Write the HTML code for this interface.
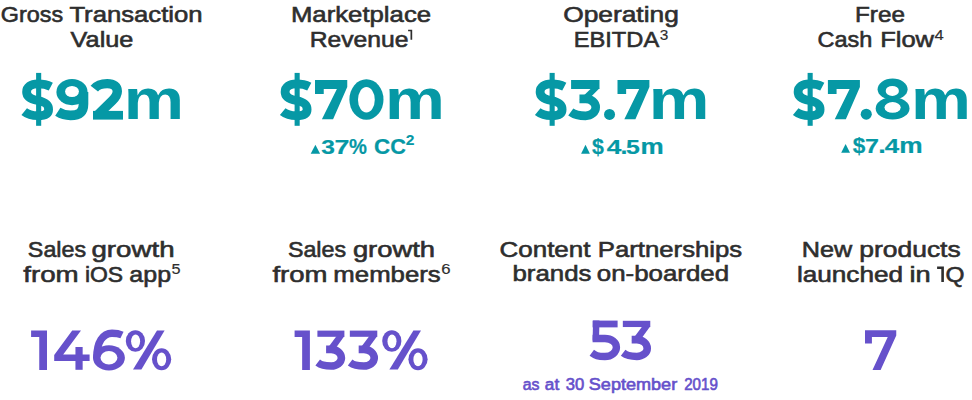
<!DOCTYPE html>
<html><head><meta charset="utf-8"><style>
html,body{margin:0;padding:0;background:#fff;width:972px;height:400px;overflow:hidden;position:relative}
.t{position:absolute;width:500px;text-align:center;white-space:nowrap;font-family:"Liberation Sans",sans-serif;transform-origin:250px 50%}
sup{font-size:0.65em;vertical-align:0;position:relative;top:-0.53em;letter-spacing:0;-webkit-text-stroke:0.15px;margin-left:0.5px}
</style></head><body>
<svg width="972" height="400" style="position:absolute;left:0;top:0"><polygon fill="#0698a5" points="315.00,80.00 347.25,80.00 347.25,87.11 333.09,119.30 321.90,119.30 336.90,89.00 323.74,89.00 323.74,94.03 315.00,94.03"/><polygon fill="#0698a5" points="617.50,80.00 649.40,80.00 649.40,87.11 635.40,119.30 624.33,119.30 639.16,89.00 626.14,89.00 626.14,94.03 617.50,94.03"/><polygon fill="#0698a5" points="827.90,80.00 859.90,80.00 859.90,87.11 845.85,119.30 834.75,119.30 849.63,89.00 836.57,89.00 836.57,94.03 827.90,94.03"/><polygon fill="#6651cb" points="865.00,330.25 896.25,330.25 896.25,335.60 880.62,369.90 872.50,369.90 887.75,336.91 871.91,336.91 871.91,343.53 865.00,343.53"/><polygon fill="#6651cb" points="31.10,330.60 47.00,330.60 47.00,369.90 39.25,369.90 39.25,336.90 31.10,336.90"/><polygon fill="#6651cb" points="294.60,330.60 309.90,330.60 309.90,369.90 302.15,369.90 302.15,336.90 294.60,336.90"/><ellipse cx="135.40" cy="341" rx="9.6" ry="10.8" fill="#6651cb"/><ellipse cx="135.60" cy="341.3" rx="4.5" ry="6.9" fill="#fff"/><ellipse cx="161.60" cy="359.2" rx="9.6" ry="11" fill="#6651cb"/><ellipse cx="161.60" cy="359.4" rx="4.6" ry="6.8" fill="#fff"/><polygon fill="#6651cb" points="157.00,330.40 164.60,330.40 141.40,369.60 133.00,369.60"/><ellipse cx="391.80" cy="341" rx="9.6" ry="10.8" fill="#6651cb"/><ellipse cx="392.00" cy="341.3" rx="4.5" ry="6.9" fill="#fff"/><ellipse cx="418.00" cy="359.2" rx="9.6" ry="11" fill="#6651cb"/><ellipse cx="418.00" cy="359.4" rx="4.6" ry="6.8" fill="#fff"/><polygon fill="#6651cb" points="413.40,330.40 421.00,330.40 397.80,369.60 389.40,369.60"/><polygon fill="#0698a5" points="315.40,144.80 320.10,153.80 310.70,153.80"/><polygon fill="#0698a5" points="585.50,144.80 589.90,153.70 581.10,153.70"/><polygon fill="#0698a5" points="845.60,143.90 850.00,152.80 841.20,152.80"/><circle cx="609.55" cy="114.4" r="5.5" fill="#0698a5"/><circle cx="866.25" cy="114.2" r="5.55" fill="#0698a5"/><ellipse cx="366.45" cy="99.45" rx="17.05" ry="20.25" fill="#0698a5"/><ellipse cx="366.4" cy="99.75" rx="8.4" ry="12.75" fill="#fff"/><polygon fill="#6651cb" points="72.2,330.6 81,330.6 63.2,354.6 89.6,354.6 89.6,361.05 54.2,361.05 54.2,355"/><rect x="75.45" y="347" width="7.2" height="22.8" fill="#6651cb"/><rect x="317.40" y="330.60" width="27.00" height="6.21" fill="#6651cb"/><polygon fill="#6651cb" points="336.60,336.02 344.40,336.02 334.20,350.13 326.10,350.13"/><path d="M 326.10 349.35 H 331.20 C 336.83 349.35 341.40 353.27 341.40 358.11 C 341.40 362.49 336.83 366.05 331.20 366.05 C 323.78 366.05 321.30 365.18 317.70 362.43" fill="none" stroke="#6651cb" stroke-width="7.60"/><rect x="349.83" y="330.60" width="27.45" height="6.21" fill="#6651cb"/><polygon fill="#6651cb" points="369.35,336.02 377.28,336.02 366.91,350.13 358.68,350.13"/><path d="M 358.68 349.35 H 363.86 C 369.59 349.35 374.23 353.27 374.23 358.11 C 374.23 362.49 369.59 366.05 363.86 366.05 C 356.31 366.05 353.80 365.18 350.13 362.43" fill="none" stroke="#6651cb" stroke-width="7.60"/><rect x="622.83" y="320.80" width="27.45" height="6.24" fill="#6651cb"/><polygon fill="#6651cb" points="642.35,326.25 650.28,326.25 639.91,340.43 631.67,340.43"/><path d="M 631.67 339.64 H 636.86 C 642.59 339.64 647.23 343.59 647.23 348.45 C 647.23 352.86 642.59 356.43 636.86 356.43 C 629.31 356.43 626.79 355.56 623.13 352.80" fill="none" stroke="#6651cb" stroke-width="7.60"/><rect x="571.09" y="80.00" width="28.39" height="8.99" fill="#0698a5"/><polygon fill="#0698a5" points="591.28,88.20 599.49,88.20 587.97,99.68 579.45,99.68"/><path d="M 579.45 98.89 H 585.61 C 591.18 98.89 595.70 102.65 595.70 107.28 C 595.70 112.01 591.18 115.84 585.61 115.84 C 577.45 115.84 574.56 114.77 570.78 112.00" fill="none" stroke="#0698a5" stroke-width="8.60"/><rect x="592.59" y="320.60" width="25.01" height="6.77" fill="#6651cb"/><polygon fill="#6651cb" points="593.06,320.60 599.47,320.60 599.00,340.50 592.59,340.50"/><path d="M 592.59 338.51 H 604.95 C 611.28 338.51 616.41 342.39 616.41 347.19 C 616.41 352.33 611.28 356.50 604.95 356.50 C 597.72 356.50 595.56 355.62 591.80 352.84" fill="none" stroke="#6651cb" stroke-width="7.40"/><path d="M 96.75 358 C 96.75 342 103 333.2 112 333.2 C 116 333.2 119 333.6 122 335" fill="none" stroke="#6651cb" stroke-width="7.4"/><ellipse cx="108.95" cy="357.8" rx="15.95" ry="12.6" fill="#6651cb"/><ellipse cx="108.95" cy="357.75" rx="8.45" ry="6.85" fill="#fff"/><path d="M 83.5 92 L 83.5 104 C 83.5 112.5 78.5 115.4 70.5 115.4 C 65.5 115.4 61.5 114.2 57.8 111.8" fill="none" stroke="#0698a5" stroke-width="9.6"/><ellipse cx="72" cy="92.1" rx="15.6" ry="13.1" fill="#0698a5"/><ellipse cx="72" cy="91.5" rx="6.9" ry="5.6" fill="#fff"/><rect x="93" y="110.9" width="30" height="8.7" fill="#0698a5"/><path d="M 94.3 88.7 C 97.2 85 101.5 83.6 107.2 83.6 C 113.8 83.6 117.3 86.8 117.3 91.2 C 117.3 94.6 115.8 97.2 112.3 100.6 L 97 115.5" fill="none" stroke="#0698a5" stroke-width="9.4"/><ellipse cx="892.6" cy="89.2" rx="15" ry="10.6" fill="#0698a5"/><ellipse cx="892.6" cy="108.4" rx="16.9" ry="11.2" fill="#0698a5"/><ellipse cx="892.3" cy="90.9" rx="6.6" ry="5" fill="#fff"/><ellipse cx="892.6" cy="107.4" rx="8.1" ry="5.3" fill="#fff"/><g transform="translate(0.00,0)"><rect x="36.1" y="72.9" width="5.1" height="52.9" fill="#0698a5"/><path d="M 50.8 86.6 C 47 84.6 42 83.9 37.8 83.9 C 30.8 83.9 26.6 87.2 26.6 91.9 C 26.6 97.2 31.5 99.2 37.8 100.5 C 44.4 101.8 48.6 103.6 48.6 109.4 C 48.6 113.9 44.6 115.7 37.8 115.7 C 32 115.7 27.3 114.1 24.2 111.6" fill="none" stroke="#0698a5" stroke-width="8.8"/></g><g transform="translate(258.50,0)"><rect x="36.1" y="72.9" width="5.1" height="52.9" fill="#0698a5"/><path d="M 50.8 86.6 C 47 84.6 42 83.9 37.8 83.9 C 30.8 83.9 26.6 87.2 26.6 91.9 C 26.6 97.2 31.5 99.2 37.8 100.5 C 44.4 101.8 48.6 103.6 48.6 109.4 C 48.6 113.9 44.6 115.7 37.8 115.7 C 32 115.7 27.3 114.1 24.2 111.6" fill="none" stroke="#0698a5" stroke-width="8.8"/></g><g transform="translate(513.50,0)"><rect x="36.1" y="72.9" width="5.1" height="52.9" fill="#0698a5"/><path d="M 50.8 86.6 C 47 84.6 42 83.9 37.8 83.9 C 30.8 83.9 26.6 87.2 26.6 91.9 C 26.6 97.2 31.5 99.2 37.8 100.5 C 44.4 101.8 48.6 103.6 48.6 109.4 C 48.6 113.9 44.6 115.7 37.8 115.7 C 32 115.7 27.3 114.1 24.2 111.6" fill="none" stroke="#0698a5" stroke-width="8.8"/></g><g transform="translate(771.50,0)"><rect x="36.1" y="72.9" width="5.1" height="52.9" fill="#0698a5"/><path d="M 50.8 86.6 C 47 84.6 42 83.9 37.8 83.9 C 30.8 83.9 26.6 87.2 26.6 91.9 C 26.6 97.2 31.5 99.2 37.8 100.5 C 44.4 101.8 48.6 103.6 48.6 109.4 C 48.6 113.9 44.6 115.7 37.8 115.7 C 32 115.7 27.3 114.1 24.2 111.6" fill="none" stroke="#0698a5" stroke-width="8.8"/></g><polygon fill="#2e2e2e" points="937.10,266.40 943.90,266.40 943.90,281.90 941.30,281.90 941.30,268.90 937.10,268.90"/><polygon fill="#2e2e2e" points="408.10,29.80 412.20,29.80 412.20,39.70 410.50,39.70 410.50,31.30 408.10,31.30"/></svg>
<div class="t" style="left:-217.82px;top:0.64px;font-size:22.4px;line-height:27px;font-weight:400;color:#2e2e2e;transform:scale(1.0444,1.0);transform-origin:250px 21.26px;letter-spacing:0px;-webkit-text-stroke:0.6px">Gross</div>
<div class="t" style="left:-113.95px;top:0.64px;font-size:22.4px;line-height:27px;font-weight:400;color:#2e2e2e;transform:scale(1.147,1.0);transform-origin:250px 21.26px;letter-spacing:0px;-webkit-text-stroke:0.6px">Transaction</div>
<div class="t" style="left:-148.43px;top:26.34px;font-size:22.4px;line-height:27px;font-weight:400;color:#2e2e2e;transform:scale(1.1283,1.0);transform-origin:250px 21.26px;letter-spacing:0px;-webkit-text-stroke:0.6px">Value</div>
<div class="t" style="left:110.55px;top:0.64px;font-size:22.4px;line-height:27px;font-weight:400;color:#2e2e2e;transform:scale(1.1491,1.0);transform-origin:250px 21.26px;letter-spacing:0px;-webkit-text-stroke:0.6px">Marketplace</div>
<div class="t" style="left:108.61px;top:26.34px;font-size:22.4px;line-height:27px;font-weight:400;color:#2e2e2e;transform:scale(1.1014,1.0);transform-origin:250px 21.26px;letter-spacing:0px;-webkit-text-stroke:0.6px">Revenue</div>
<div class="t" style="left:370.53px;top:0.64px;font-size:22.4px;line-height:27px;font-weight:400;color:#2e2e2e;transform:scale(1.1763,1.0);transform-origin:250px 21.26px;letter-spacing:0px;-webkit-text-stroke:0.6px">Operating</div>
<div class="t" style="left:371.24px;top:26.34px;font-size:22.4px;line-height:27px;font-weight:400;color:#2e2e2e;transform:scale(1.057,1.0);transform-origin:250px 21.26px;letter-spacing:0px;-webkit-text-stroke:0.6px">EBITDA<sup>3</sup></div>
<div class="t" style="left:630.20px;top:0.64px;font-size:22.4px;line-height:27px;font-weight:400;color:#2e2e2e;transform:scale(1.0843,1.0);transform-origin:250px 21.26px;letter-spacing:0px;-webkit-text-stroke:0.6px">Free</div>
<div class="t" style="left:595.29px;top:26.34px;font-size:22.4px;line-height:27px;font-weight:400;color:#2e2e2e;transform:scale(1.0491,1.0);transform-origin:250px 21.26px;letter-spacing:0px;-webkit-text-stroke:0.6px">Cash</div>
<div class="t" style="left:661.69px;top:26.34px;font-size:22.4px;line-height:27px;font-weight:400;color:#2e2e2e;transform:scale(1.1388,1.0);transform-origin:250px 21.26px;letter-spacing:0px;-webkit-text-stroke:0.6px">Flow<sup>4</sup></div>
<div class="t" style="left:-193.34px;top:235.74px;font-size:22.4px;line-height:27px;font-weight:400;color:#2e2e2e;transform:scale(1.0402,1.0);transform-origin:250px 21.26px;letter-spacing:0px;-webkit-text-stroke:0.6px">Sales</div>
<div class="t" style="left:-116.82px;top:235.74px;font-size:22.4px;line-height:27px;font-weight:400;color:#2e2e2e;transform:scale(1.2357,1.0);transform-origin:250px 21.26px;letter-spacing:0px;-webkit-text-stroke:0.6px">growth</div>
<div class="t" style="left:-199.48px;top:260.74px;font-size:22.4px;line-height:27px;font-weight:400;color:#2e2e2e;transform:scale(1.2373,1.0);transform-origin:250px 21.26px;letter-spacing:0px;-webkit-text-stroke:0.6px">from</div>
<div class="t" style="left:-145.92px;top:260.74px;font-size:22.4px;line-height:27px;font-weight:400;color:#2e2e2e;transform:scale(1.0241,1.0);transform-origin:250px 21.26px;letter-spacing:0px;-webkit-text-stroke:0.6px">iOS</div>
<div class="t" style="left:-95.12px;top:260.74px;font-size:22.4px;line-height:27px;font-weight:400;color:#2e2e2e;transform:scale(1.1149,1.0);transform-origin:250px 21.26px;letter-spacing:0px;-webkit-text-stroke:0.6px">app<sup>5</sup></div>
<div class="t" style="left:66.88px;top:235.74px;font-size:22.4px;line-height:27px;font-weight:400;color:#2e2e2e;transform:scale(1.0389,1.0);transform-origin:250px 21.26px;letter-spacing:0px;-webkit-text-stroke:0.6px">Sales</div>
<div class="t" style="left:143.62px;top:235.74px;font-size:22.4px;line-height:27px;font-weight:400;color:#2e2e2e;transform:scale(1.2234,1.0);transform-origin:250px 21.26px;letter-spacing:0px;-webkit-text-stroke:0.6px">growth</div>
<div class="t" style="left:49.58px;top:260.74px;font-size:22.4px;line-height:27px;font-weight:400;color:#2e2e2e;transform:scale(1.2291,1.0);transform-origin:250px 21.26px;letter-spacing:0px;-webkit-text-stroke:0.6px">from</div>
<div class="t" style="left:142.27px;top:260.74px;font-size:22.4px;line-height:27px;font-weight:400;color:#2e2e2e;transform:scale(1.1507,1.0);transform-origin:250px 21.26px;letter-spacing:0px;-webkit-text-stroke:0.6px">members<sup>6</sup></div>
<div class="t" style="left:295.13px;top:235.64px;font-size:22.4px;line-height:27px;font-weight:400;color:#2e2e2e;transform:scale(1.1587,1.0);transform-origin:250px 21.26px;letter-spacing:0px;-webkit-text-stroke:0.6px">Content</div>
<div class="t" style="left:420.06px;top:235.64px;font-size:22.4px;line-height:27px;font-weight:400;color:#2e2e2e;transform:scale(1.148,1.0);transform-origin:250px 21.26px;letter-spacing:0px;-webkit-text-stroke:0.6px">Partnerships</div>
<div class="t" style="left:301.69px;top:260.44px;font-size:22.4px;line-height:27px;font-weight:400;color:#2e2e2e;transform:scale(1.1545,1.0);transform-origin:250px 21.26px;letter-spacing:0px;-webkit-text-stroke:0.6px">brands</div>
<div class="t" style="left:413.34px;top:260.44px;font-size:22.4px;line-height:27px;font-weight:400;color:#2e2e2e;transform:scale(1.1554,1.0);transform-origin:250px 21.26px;letter-spacing:0px;-webkit-text-stroke:0.6px">on-boarded</div>
<div class="t" style="left:576.88px;top:236.24px;font-size:22.4px;line-height:27px;font-weight:400;color:#2e2e2e;transform:scale(1.1256,1.0);transform-origin:250px 21.26px;letter-spacing:0px;-webkit-text-stroke:0.6px">New</div>
<div class="t" style="left:659.62px;top:236.24px;font-size:22.4px;line-height:27px;font-weight:400;color:#2e2e2e;transform:scale(1.1804,1.0);transform-origin:250px 21.26px;letter-spacing:0px;-webkit-text-stroke:0.6px">products</div>
<div class="t" style="left:599.67px;top:261.04px;font-size:22.4px;line-height:27px;font-weight:400;color:#2e2e2e;transform:scale(1.1678,1.0);transform-origin:250px 21.26px;letter-spacing:0px;-webkit-text-stroke:0.6px">launched</div>
<div class="t" style="left:670.08px;top:261.04px;font-size:22.4px;line-height:27px;font-weight:400;color:#2e2e2e;transform:scale(1.2156,1.0);transform-origin:250px 21.26px;letter-spacing:0px;-webkit-text-stroke:0.6px">in</div>
<div class="t" style="left:705.00px;top:261.04px;font-size:22.4px;line-height:27px;font-weight:400;color:#2e2e2e;transform:scale(1.0902,1.0);transform-origin:250px 21.26px;letter-spacing:0px;-webkit-text-stroke:0.6px">Q</div>
<div class="t" style="left:281.47px;top:374.63px;font-size:15.8px;line-height:19px;font-weight:400;color:#6651cb;transform:scale(1.0035,1.0);transform-origin:250px 14.97px;letter-spacing:0px;-webkit-text-stroke:0.6px">as</div>
<div class="t" style="left:302.32px;top:374.63px;font-size:15.8px;line-height:19px;font-weight:400;color:#6651cb;transform:scale(1.089,1.0);transform-origin:250px 14.97px;letter-spacing:0px;-webkit-text-stroke:0.6px">at</div>
<div class="t" style="left:324.72px;top:374.63px;font-size:15.8px;line-height:19px;font-weight:400;color:#6651cb;transform:scale(1.0513,1.0);transform-origin:250px 14.97px;letter-spacing:0px;-webkit-text-stroke:0.6px">30</div>
<div class="t" style="left:383.43px;top:374.63px;font-size:15.8px;line-height:19px;font-weight:400;color:#6651cb;transform:scale(1.1436,1.0);transform-origin:250px 14.97px;letter-spacing:0px;-webkit-text-stroke:0.6px">September</div>
<div class="t" style="left:450.50px;top:374.63px;font-size:15.8px;line-height:19px;font-weight:400;color:#6651cb;transform:scale(0.959,1.0);transform-origin:250px 14.97px;letter-spacing:0px;-webkit-text-stroke:0.6px">2019</div>
<div class="t" style="left:-95.95px;top:64.88px;font-size:57.5px;line-height:69px;font-weight:700;color:#0698a5;transform:scale(1.1788,1.0);transform-origin:250px 54.42px;letter-spacing:0px;-webkit-text-stroke:0.0px">m</div>
<div class="t" style="left:164.62px;top:64.88px;font-size:57.5px;line-height:69px;font-weight:700;color:#0698a5;transform:scale(1.1707,1.0);transform-origin:250px 54.42px;letter-spacing:0px;-webkit-text-stroke:0.0px">m</div>
<div class="t" style="left:428.95px;top:64.88px;font-size:57.5px;line-height:69px;font-weight:700;color:#0698a5;transform:scale(1.1871,1.0);transform-origin:250px 54.42px;letter-spacing:0px;-webkit-text-stroke:0.0px">m</div>
<div class="t" style="left:690.88px;top:64.88px;font-size:57.5px;line-height:69px;font-weight:700;color:#0698a5;transform:scale(1.1715,1.0);transform-origin:250px 54.42px;letter-spacing:0px;-webkit-text-stroke:0.0px">m</div>
<div class="t" style="left:347.92px;top:134.15px;font-size:21.8px;line-height:26px;font-weight:700;color:#0698a5;transform:scale(0.9797,1.0);transform-origin:250px 20.55px;letter-spacing:0px;-webkit-text-stroke:0.2px">$</div>
<div class="t" style="left:364.05px;top:134.15px;font-size:21.8px;line-height:26px;font-weight:700;color:#0698a5;transform:scale(1.2087,0.96);transform-origin:250px 20.55px;letter-spacing:0px;-webkit-text-stroke:0.2px">4</div>
<div class="t" style="left:374.12px;top:134.15px;font-size:21.8px;line-height:26px;font-weight:700;color:#0698a5;transform:scale(1.1378,1.0);transform-origin:250px 20.55px;letter-spacing:0px;-webkit-text-stroke:0.2px">.</div>
<div class="t" style="left:382.83px;top:134.15px;font-size:21.8px;line-height:26px;font-weight:700;color:#0698a5;transform:scale(1.143,0.96);transform-origin:250px 20.55px;letter-spacing:0px;-webkit-text-stroke:0.2px">5</div>
<div class="t" style="left:401.63px;top:134.15px;font-size:21.8px;line-height:26px;font-weight:700;color:#0698a5;transform:scale(1.1975,1.0);transform-origin:250px 20.55px;letter-spacing:0px;-webkit-text-stroke:0.2px">m</div>
<div class="t" style="left:609.16px;top:133.35px;font-size:21.8px;line-height:26px;font-weight:700;color:#0698a5;transform:scale(1.0355,1.0);transform-origin:250px 20.55px;letter-spacing:0px;-webkit-text-stroke:0.2px">$</div>
<div class="t" style="left:622.32px;top:133.35px;font-size:21.8px;line-height:26px;font-weight:700;color:#0698a5;transform:scale(1.1489,0.96);transform-origin:250px 20.55px;letter-spacing:0px;-webkit-text-stroke:0.2px">7</div>
<div class="t" style="left:631.68px;top:133.35px;font-size:21.8px;line-height:26px;font-weight:700;color:#0698a5;transform:scale(1.2383,1.0);transform-origin:250px 20.55px;letter-spacing:0px;-webkit-text-stroke:0.2px">.</div>
<div class="t" style="left:641.95px;top:133.35px;font-size:21.8px;line-height:26px;font-weight:700;color:#0698a5;transform:scale(1.1904,0.96);transform-origin:250px 20.55px;letter-spacing:0px;-webkit-text-stroke:0.2px">4</div>
<div class="t" style="left:660.92px;top:133.35px;font-size:21.8px;line-height:26px;font-weight:700;color:#0698a5;transform:scale(1.2071,1.0);transform-origin:250px 20.55px;letter-spacing:0px;-webkit-text-stroke:0.2px">m</div>
<div class="t" style="left:78.15px;top:134.25px;font-size:21.8px;line-height:26px;font-weight:700;color:#0698a5;transform:scale(1.1257,0.96);transform-origin:250px 20.55px;letter-spacing:0px;-webkit-text-stroke:0.2px">3</div>
<div class="t" style="left:91.90px;top:134.25px;font-size:21.8px;line-height:26px;font-weight:700;color:#0698a5;transform:scale(1.2319,0.96);transform-origin:250px 20.55px;letter-spacing:0px;-webkit-text-stroke:0.2px">7</div>
<div class="t" style="left:107.81px;top:134.25px;font-size:21.8px;line-height:26px;font-weight:700;color:#0698a5;transform:scale(0.9243,1.0);transform-origin:250px 20.55px;letter-spacing:0px;-webkit-text-stroke:0.2px">%</div>
<div class="t" style="left:131.66px;top:134.25px;font-size:21.8px;line-height:26px;font-weight:700;color:#0698a5;transform:scale(1.0279,1.0);transform-origin:250px 20.55px;letter-spacing:0px;-webkit-text-stroke:0.2px">C</div>
<div class="t" style="left:147.76px;top:134.25px;font-size:21.8px;line-height:26px;font-weight:700;color:#0698a5;transform:scale(0.999,1.0);transform-origin:250px 20.55px;letter-spacing:0px;-webkit-text-stroke:0.2px">C</div>
<div class="t" style="left:160.30px;top:132.33px;font-size:14.2px;line-height:17px;font-weight:700;color:#0698a5;transform:scale(1.0974,1.0);transform-origin:250px 13.42px;letter-spacing:0px;-webkit-text-stroke:0.1px">2</div>
</body></html>
